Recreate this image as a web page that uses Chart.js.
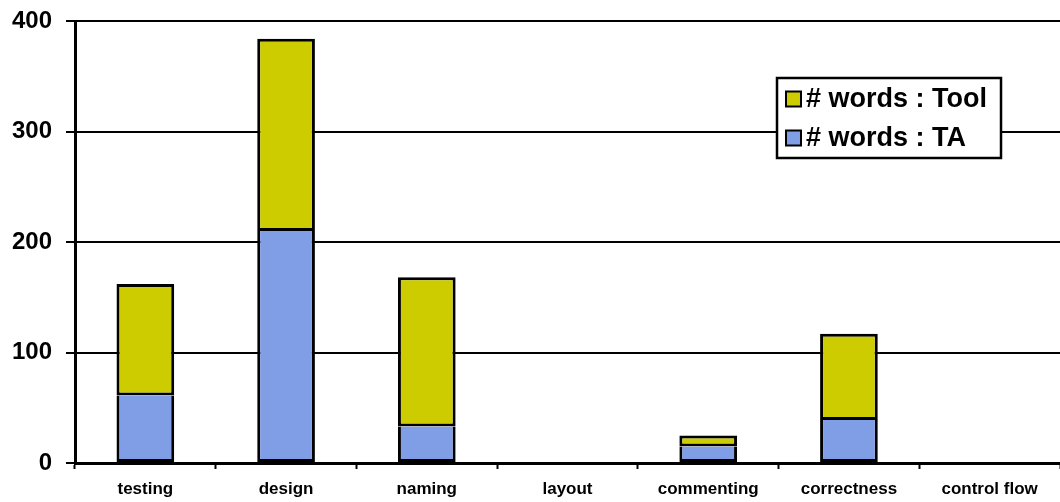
<!DOCTYPE html>
<html>
<head>
<meta charset="utf-8">
<script src="https://cdn.jsdelivr.net/npm/chart.js@4/dist/chart.umd.min.js"></script>
<style>
  html, body { margin: 0; padding: 0; background: #fff; }
  #wrap { width: 1060px; height: 502px; }
</style>
</head>
<body>
<div id="wrap"><canvas id="words"></canvas></div>
<script>
// categories and values
const categories = ['testing', 'design', 'naming', 'layout', 'commenting', 'correctness', 'control flow'];
const wordsTA   = [61, 210, 33, 0, 15, 39, 0];
const wordsTool = [101, 174, 135, 0, 10, 78, 0];
const yTicks = [0, 100, 200, 300, 400];

const colorTA = '#7f9ee6';
const colorTool = '#cccc00';
const fontFam = '"Liberation Sans", Arial, sans-serif';

// legend in a box inside the plot, Tool above TA
const boxLegend = {
    id: 'boxLegend',
    afterDraw(chart) {
        const ctx = chart.ctx;
        const items = [
            {text: chart.data.datasets[1].label, color: colorTool},
            {text: chart.data.datasets[0].label, color: colorTA}
        ];
        const x = 777, y = 78, w = 224, h = 80;
        ctx.save();
        ctx.fillStyle = '#fff';
        ctx.fillRect(x, y, w, h);
        ctx.strokeStyle = '#000';
        ctx.lineWidth = 2.5;
        ctx.strokeRect(x, y, w, h);
        ctx.font = 'bold 27px ' + fontFam;
        ctx.textBaseline = 'middle';
        items.forEach((it, i) => {
            const cy = y + 21 + i * 39;
            ctx.fillStyle = it.color;
            ctx.fillRect(786, cy - 7.5, 15, 15);
            ctx.lineWidth = 2;
            ctx.strokeRect(786, cy - 7.5, 15, 15);
            ctx.fillStyle = '#000';
            ctx.fillText(it.text, 806, cy + 1);
        });
        ctx.restore();
    }
};

new Chart(document.getElementById('words'), {
    type: 'bar',
    data: {
        labels: categories,
        datasets: [{
            label: '# words : TA',
            data: wordsTA,
            backgroundColor: colorTA,
            borderColor: '#000',
            borderWidth: 3,
            borderSkipped: 'top',
            barPercentage: 0.41,
            categoryPercentage: 1
        }, {
            label: '# words : Tool',
            data: wordsTool,
            backgroundColor: colorTool,
            borderColor: '#000',
            borderWidth: 3,
            borderSkipped: false,
            barPercentage: 0.41,
            categoryPercentage: 1
        }]
    },
    options: {
        responsive: true,
        maintainAspectRatio: false,
        animation: false,
        layout: {padding: {top: 21, right: 0, left: 0, bottom: 0}},
        plugins: {legend: {display: false}, tooltip: {enabled: false}},
        scales: {
            x: {
                stacked: true,
                afterFit(scale) { scale.height = 39; scale.paddingLeft = 0; scale.paddingRight = 0; },
                grid: {drawOnChartArea: false, drawTicks: true, tickLength: 6, tickWidth: 2, tickColor: '#000', offset: true},
                border: {color: '#000', width: 3},
                ticks: {color: '#000', padding: 10, font: {family: fontFam, size: 17, weight: 'bold'}, maxRotation: 0, autoSkip: false}
            },
            y: {
                stacked: true,
                min: 0,
                max: 400,
                afterFit(scale) { scale.width = 75; scale.paddingTop = 0; scale.paddingBottom = 0; },
                afterBuildTicks(scale) { scale.ticks = yTicks.map(v => ({value: v})); },
                grid: {color: '#000', lineWidth: 2, tickLength: 9, tickWidth: 2, tickColor: '#000'},
                border: {color: '#000', width: 3},
                ticks: {color: '#000', padding: 14, font: {family: fontFam, size: 24, weight: 'bold'}}
            }
        }
    },
    plugins: [boxLegend]
});
</script>
</body>
</html>
